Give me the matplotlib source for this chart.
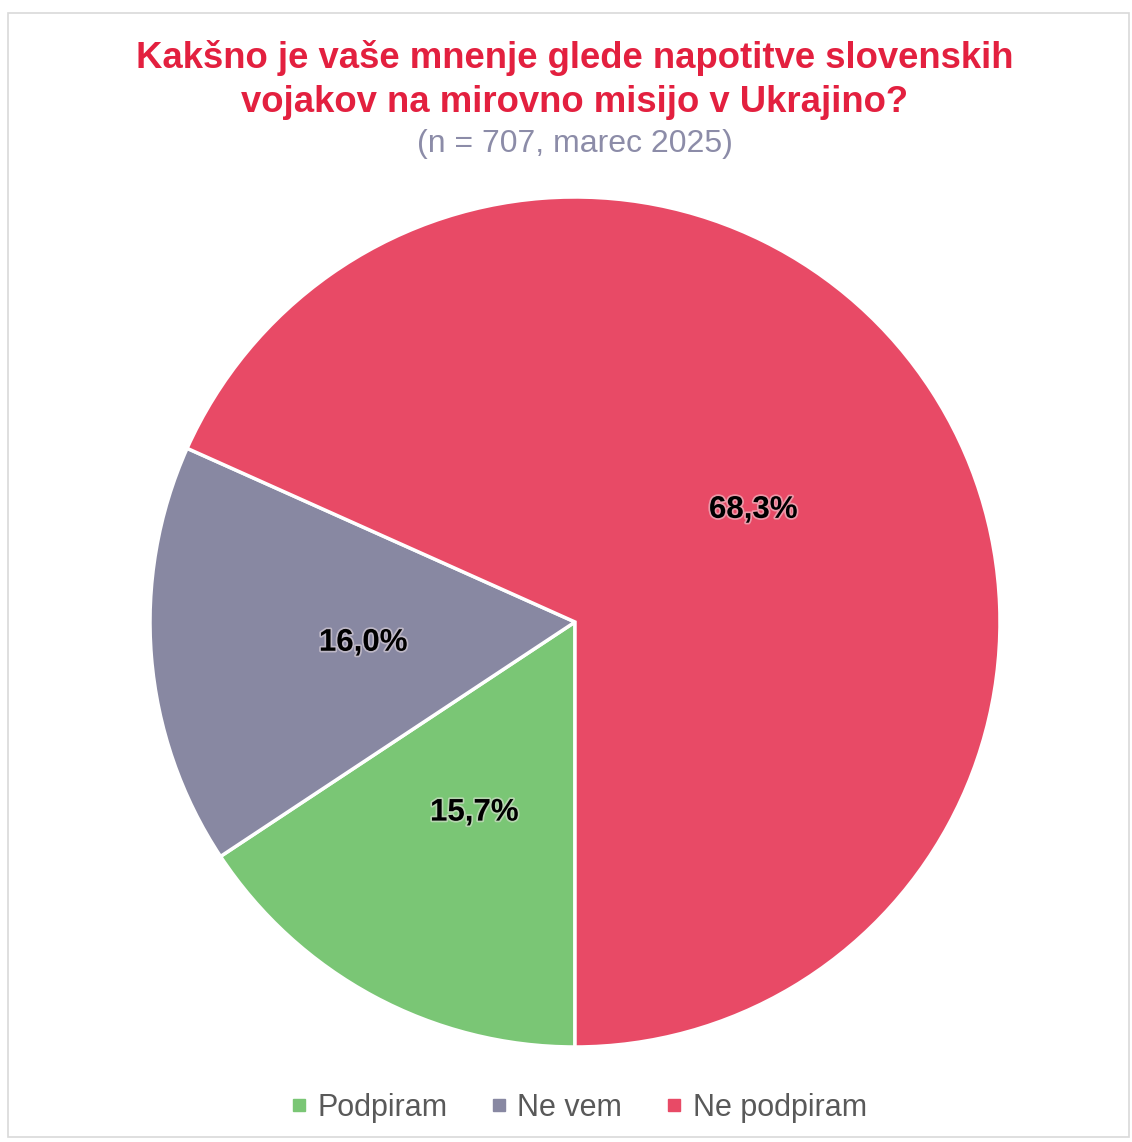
import numpy as np
import matplotlib.pyplot as plt
import matplotlib.patheffects as pe
from matplotlib.lines import Line2D
from matplotlib.patches import Rectangle

plt.rcParams['font.family'] = ['Liberation Sans', 'DejaVu Sans']

kategorije = ['Podpiram', 'Ne vem', 'Ne podpiram']
vrednosti = [15.7, 16.0, 68.3]
oznake = ['15,7%', '16,0%', '68,3%']
barve = ['#7AC675', '#8888A2', '#E84A66']

fig = plt.figure(figsize=(11.32, 11.42), dpi=100)
fig.patches.append(Rectangle((0.007, 0.004), 0.99, 0.985, transform=fig.transFigure,
                             fill=False, edgecolor='#D9D9D9', linewidth=1.2))

ax = fig.add_axes([0.1325, 0.0832, 0.7509, 0.7443])
wedges, _ = ax.pie(vrednosti, colors=barve, startangle=270, counterclock=False,
                   wedgeprops=dict(edgecolor='white', linewidth=2.5))
for w, t in zip(wedges, oznake):
    kot = np.deg2rad((w.theta1 + w.theta2) / 2)
    ax.text(0.5 * np.cos(kot), 0.5 * np.sin(kot) - 0.008, t, ha='center', va='center',
            fontsize=22.5, fontweight='bold', color='black',
            path_effects=[pe.withStroke(linewidth=2.5, foreground='#F2E6EA', alpha=0.5)])
ax.set_xlim(-1, 1)
ax.set_ylim(-1, 1)
ax.set_aspect('equal')

fig.text(0.508, 0.949, 'Kakšno je vaše mnenje glede napotitve slovenskih',
         ha='center', va='center', fontsize=26.3, fontweight='bold', color='#E3203F')
fig.text(0.508, 0.910, 'vojakov na mirovno misijo v Ukrajino?',
         ha='center', va='center', fontsize=26.3, fontweight='bold', color='#E3203F')
fig.text(0.508, 0.874, '(n = 707, marec 2025)',
         ha='center', va='center', fontsize=23, color='#8C8CA8')

rocaji = [Line2D([0], [0], marker='s', linestyle='', markersize=9, color=b) for b in barve]
fig.legend(rocaji, kategorije, loc='center', bbox_to_anchor=(0.508, 0.030), ncol=3,
           frameon=False, fontsize=22, labelcolor='#595959', handletextpad=0.1,
           columnspacing=1.2, handlelength=1.0)

fig.savefig('out.png', dpi=100)
